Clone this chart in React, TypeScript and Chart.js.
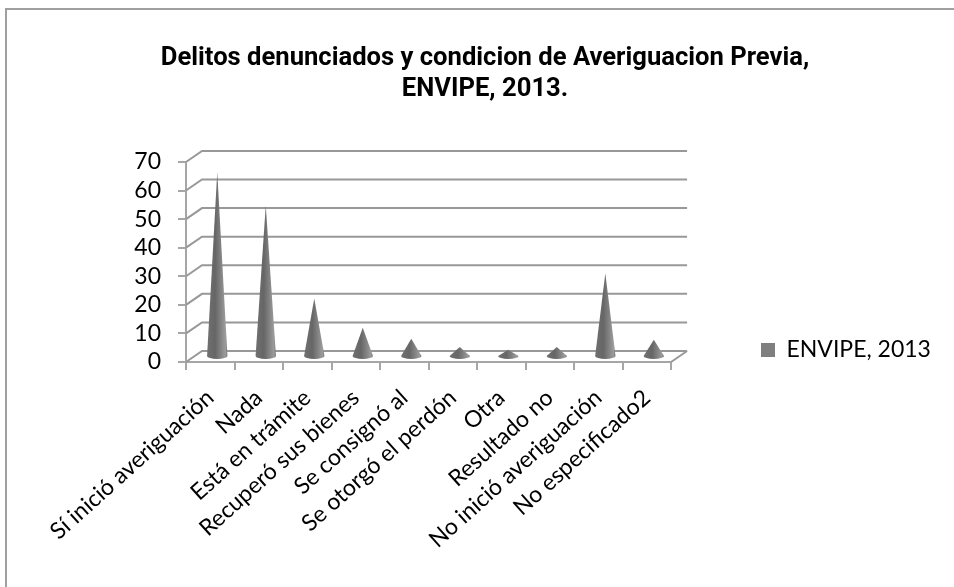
import React, { useEffect, useRef } from "react";
import { Chart, registerables } from "chart.js";

Chart.register(...registerables);

const categories = [
  "Sí inició averiguación",
  "Nada",
  "Está en trámite",
  "Recuperó sus bienes",
  "Se consignó al",
  "Se otorgó el perdón",
  "Otra",
  "Resultado no",
  "No inició averiguación",
  "No especificado2",
];
const seriesName = "ENVIPE, 2013";
const seriesValues = [64.7, 53, 20.5, 10.2, 6.4, 3.5, 2.5, 3.5, 29.3, 6];
const titleLines = [
  "Delitos denunciados y condicion de Averiguacion Previa,",
  "ENVIPE, 2013.",
];
const yTicks = [0, 10, 20, 30, 40, 50, 60, 70];

const FONT = "Lato, Carlito, Calibri, sans-serif";
const TITLE_FONT = "Roboto, 'Liberation Sans', sans-serif";
const AXIS = "#a6a6a6";
const GRID = "#989898";
const DEPTH_X = 16;
const DEPTH_Y = -11;
const CONE_DX = 7;
const CONE_DY = -5;

const frame3d = {
  id: "frame3d",
  beforeDraw(chart: any) {
    const { ctx, width, height } = chart;
    ctx.save();
    ctx.strokeStyle = "#a0a0a0";
    ctx.lineWidth = 2;
    ctx.beginPath();
    ctx.moveTo(6, height);
    ctx.lineTo(6, 9);
    ctx.lineTo(width, 9);
    ctx.stroke();
    ctx.restore();
  },
  beforeDatasetsDraw(chart: any) {
    const { ctx, chartArea, scales } = chart;
    const y = scales.y;
    ctx.save();
    ctx.strokeStyle = GRID;
    ctx.lineWidth = 2;
    for (const v of yTicks) {
      const py = y.getPixelForValue(v);
      ctx.beginPath();
      ctx.moveTo(chartArea.left, py);
      ctx.lineTo(chartArea.left + DEPTH_X, py + DEPTH_Y);
      ctx.lineTo(chartArea.right + DEPTH_X, py + DEPTH_Y);
      ctx.stroke();
    }
    const p0 = y.getPixelForValue(0);
    ctx.beginPath();
    ctx.moveTo(chartArea.right, p0);
    ctx.lineTo(chartArea.right + DEPTH_X, p0 + DEPTH_Y);
    ctx.stroke();
    ctx.restore();
  },
  beforeDatasetDraw(chart: any, args: any) {
    const { ctx } = chart;
    const meta = chart.getDatasetMeta(args.index);
    ctx.save();
    for (const el of meta.data) {
      const cx = el.x + CONE_DX;
      const tip = el.y + CONE_DY;
      const base = el.base + CONE_DY;
      const r = el.width / 2;
      const g = ctx.createLinearGradient(cx - r, 0, cx + r, 0);
      g.addColorStop(0, "#707070");
      g.addColorStop(0.4, "#666666");
      g.addColorStop(0.7, "#858585");
      g.addColorStop(0.9, "#9c9c9c");
      g.addColorStop(1, "#747474");
      ctx.fillStyle = g;
      ctx.beginPath();
      ctx.moveTo(cx, tip);
      ctx.lineTo(cx + r, base);
      ctx.ellipse(cx, base, r, 3, 0, 0, Math.PI);
      ctx.closePath();
      ctx.fill();
    }
    ctx.restore();
    return false;
  },
  afterLayout(chart: any) {
    const { titleBlock: title, legend } = chart;
    title.left = 16;
    title.right = 954;
    const lw = legend.right - legend.left;
    const lh = legend.bottom - legend.top;
    legend.left = 753;
    legend.right = 753 + lw;
    legend.top = 350 - lh / 2;
    legend.bottom = legend.top + lh;
  },
};

export default function App() {
  const ref = useRef<HTMLCanvasElement>(null);
  useEffect(() => {
    document.body.style.margin = "0";
    document.body.style.background = "#ffffff";
    const chart = new Chart(ref.current!, {
      type: "bar",
      data: {
        labels: categories,
        datasets: [
          {
            label: seriesName,
            data: seriesValues,
            backgroundColor: "#7f7f7f",
            borderWidth: 0,
            categoryPercentage: 1,
            barPercentage: 0.42,
          },
        ],
      },
      options: {
        responsive: false,
        animation: false,
        layout: { padding: { top: 43, right: 95, left: 0, bottom: 0 } },
        plugins: {
          title: {
            display: true,
            text: titleLines,
            color: "#000000",
            font: { family: TITLE_FONT, size: 25.6, weight: "bold", lineHeight: 1.21 },
            padding: { top: 0, bottom: 57 },
          },
          legend: {
            display: true,
            position: "right",
            labels: {
              color: "#000000",
              font: { family: FONT, size: 23 },
              boxWidth: 14,
              boxHeight: 14,
              padding: 8,
            },
          },
          tooltip: { enabled: false },
        },
        scales: {
          x: {
            afterFit(s: any) {
              s.height = 225;
            },
            grid: {
              drawOnChartArea: false,
              drawTicks: true,
              tickLength: 8,
              color: AXIS,
              lineWidth: 2,
            },
            border: { display: true, color: AXIS, width: 2 },
            ticks: {
              color: "#000000",
              autoSkip: false,
              minRotation: 42,
              maxRotation: 42,
              font: { family: FONT, size: 23 },
              padding: 14,
            },
          },
          y: {
            min: 0,
            max: 70,
            afterFit(s: any) {
              s.width = 186;
            },
            grid: {
              drawOnChartArea: false,
              drawTicks: true,
              tickLength: 8,
              color: AXIS,
              lineWidth: 2,
            },
            border: { display: true, color: AXIS, width: 2 },
            ticks: {
              color: "#000000",
              stepSize: 10,
              autoSkip: false,
              font: { family: FONT, size: 23 },
              padding: 17,
            },
          },
        },
      },
      plugins: [frame3d],
    } as any);
    return () => chart.destroy();
  }, []);
  return (
    <canvas
      ref={ref}
      width={954}
      height={587}
      style={{ display: "block", width: 954, height: 587 }}
    />
  );
}
